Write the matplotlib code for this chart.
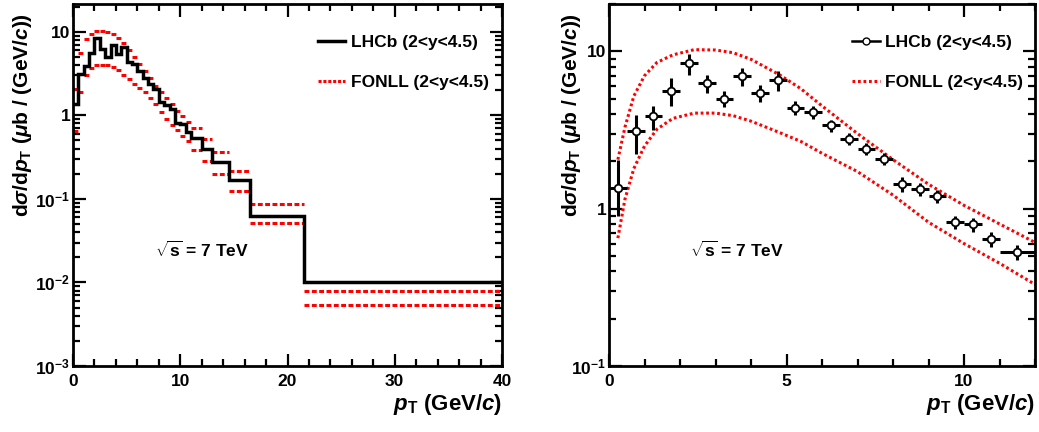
import numpy as np
import matplotlib
matplotlib.use("Agg")
import matplotlib.pyplot as plt
from matplotlib.ticker import MultipleLocator, LogLocator, FuncFormatter, NullFormatter
from matplotlib.lines import Line2D

plt.rcParams['font.family'] = ['Liberation Sans', 'DejaVu Sans']
plt.rcParams['mathtext.fontset'] = 'custom'
plt.rcParams['mathtext.rm'] = 'Liberation Sans:bold'
plt.rcParams['mathtext.it'] = 'Liberation Sans:italic:bold'
plt.rcParams['mathtext.bf'] = 'Liberation Sans:bold'
plt.rcParams['font.weight'] = 'bold'
plt.rcParams['axes.labelweight'] = 'bold'

# ---- data: LHCb measured points (right panel / fine bins) ----
pt_center = [0.25, 0.75, 1.25, 1.75, 2.25, 2.75, 3.25, 3.75, 4.25, 4.75, 5.25, 5.75,
             6.25, 6.75, 7.25, 7.75, 8.25, 8.75, 9.25, 9.75, 10.25, 10.75, 11.5]
pt_halfwidth = [0.25]*22 + [0.5]
lhcb = [1.36, 3.1, 3.87, 5.63, 8.44, 6.3, 4.99, 6.94, 5.45, 6.55, 4.37, 4.1,
        3.38, 2.78, 2.40, 2.08, 1.43, 1.33, 1.20, 0.82, 0.795, 0.638, 0.53]
lhcb_err_lo = [0.46, 0.86, 0.69, 1.15, 1.36, 0.83, 0.58, 0.94, 0.70, 0.98, 0.45, 0.40,
               0.30, 0.25, 0.22, 0.18, 0.15, 0.13, 0.12, 0.08, 0.08, 0.07, 0.06]
lhcb_err_hi = [0.69, 0.86, 0.65, 1.15, 1.23, 0.80, 0.58, 0.91, 0.70, 0.91, 0.45, 0.40,
               0.30, 0.25, 0.22, 0.18, 0.15, 0.13, 0.12, 0.08, 0.08, 0.07, 0.06]

# FONLL per-bin (left panel, fine bins)
fonll_up_bins = [2.05, 5.5, 8.1, 9.4, 10.1, 10.25, 9.9, 9.3, 8.4, 7.3, 6.1, 5.0,
                 4.1, 3.4, 2.8, 2.25, 1.9, 1.6, 1.35, 1.12, 0.97, 0.84, 0.70]
fonll_lo_bins = [0.65, 1.9, 3.0, 3.65, 3.95, 4.05, 4.0, 3.8, 3.45, 3.05, 2.75, 2.4,
                 2.1, 1.9, 1.6, 1.38, 1.1, 0.9, 0.76, 0.66, 0.57, 0.49, 0.39]

# Wide bins (left panel only)
wide_edges = [12, 13, 14.5, 16.5, 21.5, 40]
lhcb_wide = [0.40, 0.28, 0.166, 0.062, 0.0101]
fonll_up_wide = [0.515, 0.363, 0.215, 0.088, 0.0078]
fonll_lo_wide = [0.283, 0.20, 0.123, 0.0515, 0.0053]

# FONLL curves (right panel)
curve_pt = [0.25, 0.45, 0.7, 1.0, 1.35, 1.8, 2.4, 3.0, 3.5, 4.0, 4.8, 5.4, 6.0,
            7.0, 8.0, 9.0, 10.0, 11.0, 12.0]
curve_up = [2.05, 3.3, 5.2, 7.0, 8.5, 9.5, 10.25, 10.2, 9.8, 8.9, 7.1, 5.8, 4.5,
            3.0, 2.05, 1.43, 1.05, 0.8, 0.61]
curve_lo = [0.65, 1.15, 1.8, 2.5, 3.2, 3.75, 4.05, 4.05, 3.9, 3.6, 3.05, 2.68, 2.25,
            1.72, 1.22, 0.82, 0.6, 0.45, 0.33]

legend_labels = ['LHCb (2<y<4.5)', 'FONLL (2<y<4.5)']
ylab = r'd$\sigma$/d$\mathit{p}_{\mathrm{T}}$ ($\mu$b / (GeV/$\mathit{c}$))'
xlab = r'$\mathit{p}_{\mathrm{T}}$ (GeV/$\mathit{c}$)'
sqrt_txt = r'$\sqrt{\mathrm{s}}$ = 7 TeV'

W, H = 1039, 432
fig = plt.figure(figsize=(W/100, H/100), dpi=100)

def frac(x0, x1, y0, y1):
    return [x0/W, 1 - y1/H, (x1-x0)/W, (y1-y0)/H]

axL = fig.add_axes(frac(73, 502, 4, 366))
axR = fig.add_axes(frac(609, 1035, 4, 366))

RED = '#ff0000'

# ---- left panel ----
centers = np.array(pt_center)
hw = np.array(pt_halfwidth)
edges_fine = list(centers - hw) + [centers[-1] + hw[-1]]
all_edges = edges_fine + wide_edges[1:]
all_vals = lhcb + lhcb_wide
axL.stairs(all_vals, all_edges, baseline=None, color='black', lw=2.5, zorder=3)

lefts = list(centers - hw) + wide_edges[:-1]
rights = list(centers + hw) + wide_edges[1:]
dash = (0, (1.6, 0.8))
axL.hlines(fonll_up_bins + fonll_up_wide, lefts, rights, colors=RED, lw=2.2, linestyles=[dash])
axL.hlines(fonll_lo_bins + fonll_lo_wide, lefts, rights, colors=RED, lw=2.2, linestyles=[dash])

axL.set_yscale('log')
axL.set_xlim(0, 40)
axL.set_ylim(1e-3, 21.5)
axL.xaxis.set_major_locator(MultipleLocator(10))
axL.xaxis.set_minor_locator(MultipleLocator(2))

hL = [Line2D([], [], color='black', lw=2.5),
      Line2D([], [], color=RED, lw=2.2, linestyle=(0, (1.0, 0.6)))]
axL.legend(hL, legend_labels, loc='upper left', bbox_to_anchor=(0.57, 0.915),
           frameon=False, fontsize=12.5, handlelength=1.6, handletextpad=0.3,
           labelspacing=1.45, borderpad=0, borderaxespad=0)
axL.text(0.30, 0.32, sqrt_txt, transform=axL.transAxes, fontsize=12.5,
         ha='center', va='center')

# ---- right panel ----
axR.plot(curve_pt, curve_up, color=RED, lw=2.2, linestyle=(0, (0.9, 0.9)))
axR.plot(curve_pt, curve_lo, color=RED, lw=2.2, linestyle=(0, (0.9, 0.9)))
axR.errorbar(pt_center, lhcb, yerr=[lhcb_err_lo, lhcb_err_hi], xerr=pt_halfwidth,
             fmt='o', ms=5.5, mfc='white', mec='black', mew=1.3, ecolor='black',
             elinewidth=2.2, capsize=0, zorder=3)
axR.set_yscale('log')
axR.set_xlim(0, 12)
axR.set_ylim(0.1, 20)
axR.xaxis.set_major_locator(MultipleLocator(5))
axR.xaxis.set_minor_locator(MultipleLocator(1))

hR = [Line2D([], [], color='black', lw=1.8, marker='o', ms=5, mfc='white', mec='black'),
      Line2D([], [], color=RED, lw=2.2, linestyle=(0, (0.9, 0.9)))]
axR.legend(hR, legend_labels, loc='upper left', bbox_to_anchor=(0.57, 0.915),
           frameon=False, fontsize=12.5, handlelength=1.6, handletextpad=0.3,
           labelspacing=1.45, borderpad=0, borderaxespad=0)
axR.text(0.30, 0.32, sqrt_txt, transform=axR.transAxes, fontsize=12.5,
         ha='center', va='center')


def log_fmt(v, pos):
    e = int(round(np.log10(v)))
    if e == 0:
        return '1'
    if e == 1:
        return '10'
    return r'$\mathregular{10^{%d}}$' % e


for ax in (axL, axR):
    ax.yaxis.set_major_locator(LogLocator(base=10, numticks=10))
    ax.yaxis.set_minor_locator(LogLocator(base=10, subs=np.arange(2, 10), numticks=20))
    ax.yaxis.set_major_formatter(FuncFormatter(log_fmt))
    ax.yaxis.set_minor_formatter(NullFormatter())
    ax.tick_params(which='both', direction='in', top=True, right=True, width=1.6,
                   labelsize=12.5)
    ax.tick_params(axis='x', which='major', pad=6)
    ax.tick_params(axis='y', which='major', pad=2)
    ax.tick_params(which='major', length=9)
    ax.tick_params(which='minor', length=5)
    for s in ax.spines.values():
        s.set_linewidth(2)
    ax.set_xlabel(xlab, fontsize=16, loc='right', labelpad=2)
    ax.set_ylabel(ylab, fontsize=15, loc='top')

axL.yaxis.set_label_coords(-0.092, 0.975)
axR.yaxis.set_label_coords(-0.062, 0.975)

fig.savefig('out.png', dpi=100)
